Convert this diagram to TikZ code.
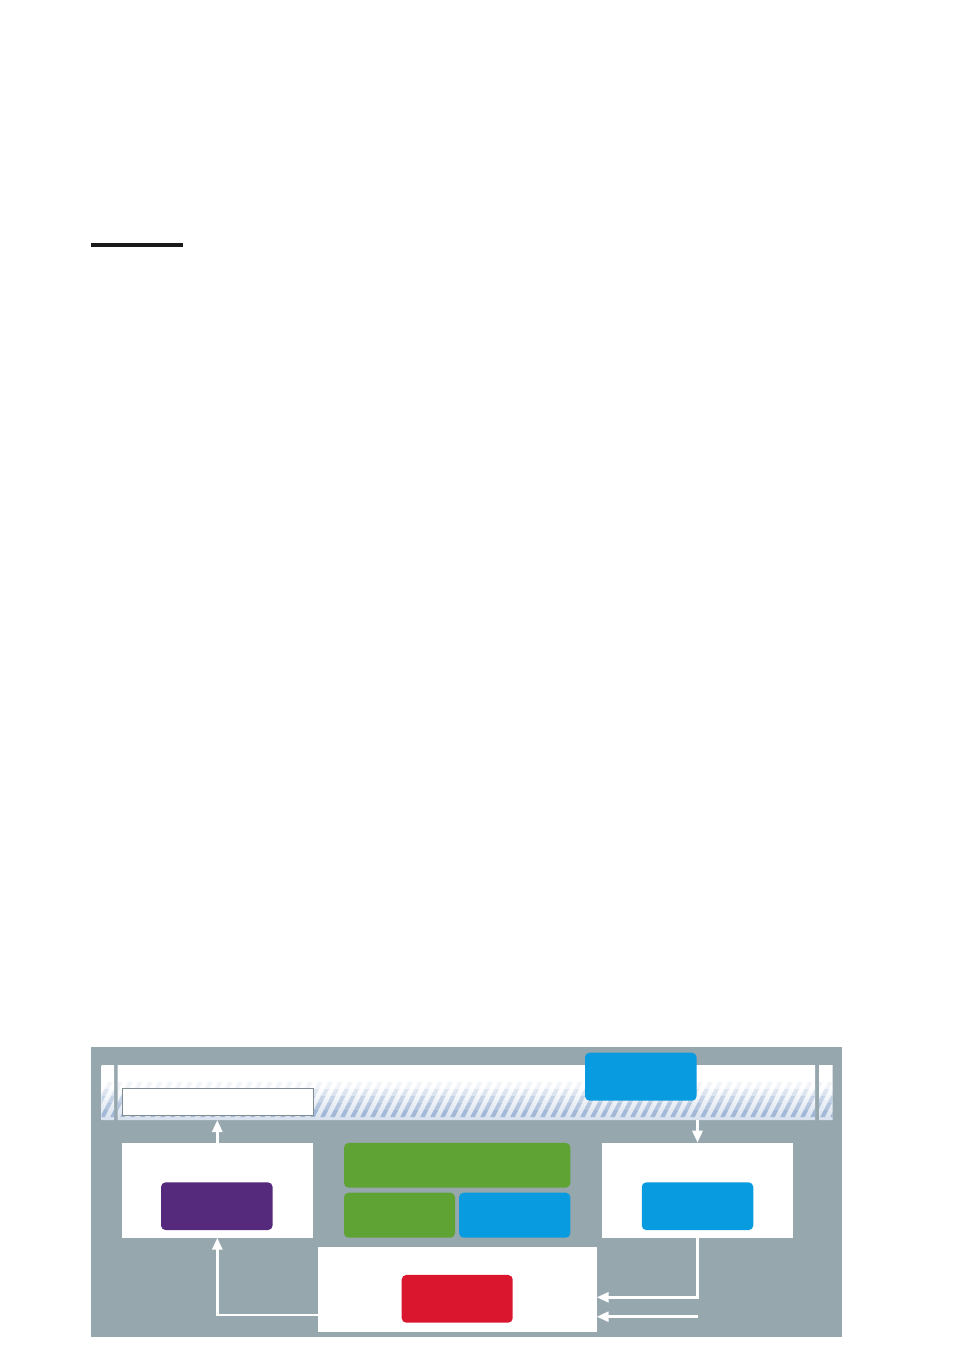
\documentclass[tikz,border=0pt]{standalone}
\usepackage{tikz}
\usetikzlibrary{arrows.meta}
\definecolor{panelgray}{RGB}{151,167,174}
\definecolor{unitgreen}{RGB}{95,163,52}
\definecolor{unitblue}{RGB}{8,155,223}
\definecolor{unitpurple}{RGB}{85,41,123}
\definecolor{unitred}{RGB}{218,22,46}
\definecolor{bandtop}{RGB}{196,213,236}
\definecolor{bandlow}{RGB}{182,199,222}
\definecolor{stripe}{RGB}{148,173,210}
\pgfdeclareverticalshading{bandshade}{100bp}{color(0bp)=(bandlow); color(55bp)=(white); color(75bp)=(white); color(100bp)=(bandtop)}
\tikzstyle{whitebox}=[rectangle, fill=white, inner sep=0pt, outer sep=0pt]
\tikzstyle{unitbox}=[rectangle, rounded corners=0.45mm, inner sep=0pt, outer sep=0pt, minimum width=11.15mm, minimum height=4.77mm]
\tikzstyle{flowline}=[draw=white, line width=0.27mm, -{Triangle[length=1.2mm,width=1mm]}]
\begin{document}
\begin{tikzpicture}[x=0.1mm,y=-0.1mm]
\useasboundingbox (0,0) rectangle (954,1350);
\draw[black!90, line width=0.4mm] (91,245) -- (183,245);
\fill[panelgray] (91,1047) rectangle (842,1337);
\shade[shading=bandshade] (101.7,1065) rectangle (114,1120) (117.7,1065) rectangle (815,1120) (819,1065) rectangle (832.7,1120);
\foreach \top/\op in {1082/0.12,1089/0.28,1096/0.45,1103/0.62,1110/0.8} {
\begin{scope}
\clip (101.7,\top) rectangle (114,\top+7.2) (117.7,\top) rectangle (815,\top+7.2) (819,\top) rectangle (832.7,\top+7.2);
\clip (0,1065) rectangle (954,1120);
\draw[stripe, line width=0.4mm, opacity=\op] foreach \x in {60,70,...,840} {(\x,1122) -- ++(30,-59)};
\end{scope}
}
\node[inner sep=0pt, outer sep=0pt, minimum width=69.73mm, minimum height=5.5mm] (band) at (466.35,1092.5) {};
\node[whitebox, draw=panelgray!85!black, line width=0.1mm, minimum width=19.1mm, minimum height=2.7mm] (bandlabel) at (217.8,1101.8) {};
\node[unitbox, fill=unitblue, minimum height=4.8mm] (topunit) at (640.8,1076.7) {};
\node[whitebox, minimum width=19.13mm, minimum height=9.5mm] (leftbox) at (217.3,1190.2) {};
\node[unitbox, fill=unitpurple] (purple) at (216.8,1206.2) {};
\node[unitbox, fill=unitgreen, minimum width=22.63mm, minimum height=4.47mm] (greentop) at (457.2,1165.3) {};
\node[unitbox, fill=unitgreen, minimum width=11.1mm, minimum height=4.5mm] (greenleft) at (399.5,1215.2) {};
\node[unitbox, fill=unitblue, minimum width=11.13mm, minimum height=4.5mm] (blueright) at (514.7,1215.2) {};
\node[whitebox, minimum width=19.1mm, minimum height=9.5mm] (rightbox) at (697.5,1190.2) {};
\node[unitbox, fill=unitblue] (blueunit) at (697.5,1206.2) {};
\node[whitebox, minimum width=27.9mm, minimum height=8.5mm] (botbox) at (457.2,1289.2) {};
\node[unitbox, fill=unitred, minimum width=11.1mm] (red) at (457.2,1298.8) {};
\coordinate (inlow) at (697.7,1316.7);
\draw[flowline] (leftbox.north) -- (leftbox.north |- band.south);
\draw[flowline] (rightbox.north |- band.south) -- (rightbox.north);
\draw[flowline] (botbox.west |- 0,1315) -| (leftbox.south);
\draw[flowline] (rightbox.south) |- (botbox.east |- 0,1297.3);
\draw[flowline] (inlow) -- (botbox.east |- inlow);
\end{tikzpicture}
\end{document}
